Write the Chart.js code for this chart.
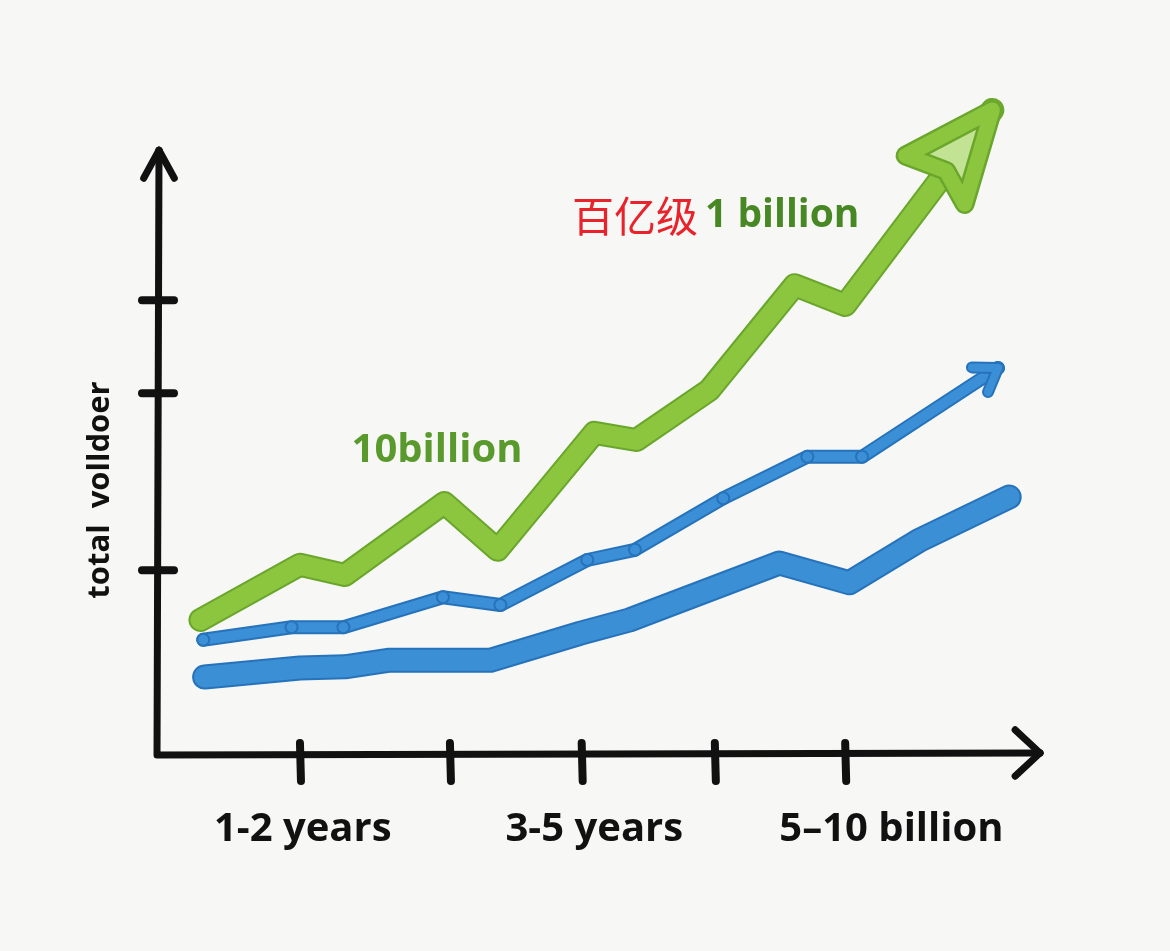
<!DOCTYPE html>
<html lang="zh">

<head>
    <meta charset="UTF-8">
    <title>total volldoer</title>
    <style>
        body { margin: 0; background: #f7f7f6; }
    </style>
    <script src="https://cdn.jsdelivr.net/npm/chart.js"></script>
</head>

<body>
    <canvas id="grafico" width="1170" height="951"></canvas>
<script>
    // valores (x em "anos", y em unidades do eixo)
    var verdeX = [0.31, 1.02, 1.34, 2.05, 2.43, 3.12, 3.42, 3.94, 4.55, 4.91, 5.96];
    var verdeY = [2.25, 3.17, 3.0, 4.2, 3.42, 5.37, 5.25, 6.08, 7.83, 7.5, 10.75];

    var azulMeioX = [0.33, 0.96, 1.33, 2.04, 2.45, 3.07, 3.41, 4.04, 4.64, 5.03, 6.0];
    var azulMeioY = [1.92, 2.13, 2.13, 2.63, 2.5, 3.25, 3.42, 4.28, 4.97, 4.97, 6.45];

    var azulBaixoX = [0.34, 1.02, 1.34, 1.66, 2.38, 3.02, 3.37, 4.44, 4.94, 5.44, 6.08];
    var azulBaixoY = [1.3, 1.45, 1.47, 1.58, 1.58, 2.03, 2.25, 3.2, 2.87, 3.58, 4.3];

    var ticksX = [1.02, 2.09, 3.03, 3.98, 4.91];
    var ticksY = [3.08, 6.03, 7.58];

    var labelsX = ['1-2 years', '3-5 years', '5\u201310 billion'];
    var labelsXpos = [1.04, 3.12, 5.24];

    function pontos(xs, ys) {
        var lista = [];
        for (var i = 0; i < xs.length; i++) {
            lista.push({ x: xs[i], y: ys[i] });
        }
        return lista;
    }

    function linha(ctx, x1, y1, x2, y2) {
        ctx.beginPath();
        ctx.moveTo(x1, y1);
        ctx.lineTo(x2, y2);
        ctx.stroke();
    }

    function seta(ctx, px, py, ang, tam, abertura) {
        linha(ctx, px, py, px + Math.cos(ang + abertura) * tam, py + Math.sin(ang + abertura) * tam);
        linha(ctx, px, py, px + Math.cos(ang - abertura) * tam, py + Math.sin(ang - abertura) * tam);
    }

    var bordas = ['#6aa62c', '#2673bb', '#2673bb'];

    var eixos = {
        id: 'eixos',
        beforeDatasetsDraw: function (chart) {
            var ctx = chart.ctx;
            var sx = chart.scales.x;
            var sy = chart.scales.y;
            var x0 = sx.getPixelForValue(0);
            var y0 = sy.getPixelForValue(0);
            var yTopo = sy.getPixelForValue(10.08);
            var xFim = sx.getPixelForValue(6.3);

            ctx.save();
            ctx.strokeStyle = '#111';
            ctx.lineWidth = 7;
            ctx.lineCap = 'round';
            ctx.lineJoin = 'round';
            ctx.beginPath();
            ctx.moveTo(x0 + 2, yTopo);
            ctx.lineTo(x0, y0);
            ctx.lineTo(xFim, y0 - 2);
            ctx.stroke();
            seta(ctx, x0 + 2, yTopo, Math.PI / 2, 32, 0.5);
            seta(ctx, xFim, y0 - 2, Math.PI, 34, 0.75);

            ctx.lineWidth = 8;
            ticksX.forEach(function (v) {
                var px = sx.getPixelForValue(v);
                linha(ctx, px, y0 - 12, px + 1, y0 + 26);
            });
            ticksY.forEach(function (v) {
                var py = sy.getPixelForValue(v);
                linha(ctx, x0 - 15, py, x0 + 17, py);
            });
            ctx.restore();
        },
        beforeDatasetDraw: function (chart, args) {
            // contorno mais escuro por baixo de cada linha
            var ctx = chart.ctx;
            var meta = args.meta;
            var ds = chart.data.datasets[args.index];
            ctx.save();
            ctx.strokeStyle = bordas[args.index];
            ctx.lineWidth = ds.borderWidth + 4;
            ctx.lineCap = 'round';
            ctx.lineJoin = 'round';
            ctx.beginPath();
            meta.data.forEach(function (pt, i) {
                if (i == 0) ctx.moveTo(pt.x, pt.y);
                else ctx.lineTo(pt.x, pt.y);
            });
            ctx.stroke();
            ctx.restore();
        },
        afterDatasetsDraw: function (chart) {
            var ctx = chart.ctx;
            var sx = chart.scales.x;
            ctx.save();
            ctx.lineCap = 'round';
            ctx.lineJoin = 'round';

            // ponta da seta verde
            var p = chart.getDatasetMeta(0).data;
            var a = p[p.length - 1], b = p[p.length - 2];
            var ang = Math.atan2(b.y - a.y, b.x - a.x);
            var tam = 98;
            ctx.beginPath();
            ctx.moveTo(a.x, a.y);
            ctx.lineTo(a.x + Math.cos(ang + 0.44) * tam, a.y + Math.sin(ang + 0.44) * tam);
            ctx.lineTo(a.x + Math.cos(ang) * tam * 0.78, a.y + Math.sin(ang) * tam * 0.78);
            ctx.lineTo(a.x + Math.cos(ang - 0.36) * tam, a.y + Math.sin(ang - 0.36) * tam);
            ctx.closePath();
            ctx.fillStyle = '#c3e394';
            ctx.fill();
            ctx.strokeStyle = '#6aa62c';
            ctx.lineWidth = 20;
            ctx.stroke();
            ctx.strokeStyle = '#8cc63f';
            ctx.lineWidth = 15;
            ctx.stroke();

            // ponta da seta azul
            var q = chart.getDatasetMeta(1).data;
            var c = q[q.length - 1], d = q[q.length - 2];
            var angA = Math.atan2(d.y - c.y, d.x - c.x);
            ctx.strokeStyle = '#2673bb';
            ctx.lineWidth = 12;
            seta(ctx, c.x, c.y, angA, 26, 0.6);
            ctx.strokeStyle = '#3a8fd6';
            ctx.lineWidth = 8;
            seta(ctx, c.x, c.y, angA, 26, 0.6);

            // textos
            ctx.textBaseline = 'middle';
            ctx.textAlign = 'center';
            ctx.fillStyle = '#111';
            ctx.font = 'bold 40px "Open Sans", "Noto Sans", sans-serif';
            for (var i = 0; i < labelsX.length; i++) {
                ctx.fillText(labelsX[i], sx.getPixelForValue(labelsXpos[i]), 830);
            }

            ctx.fillStyle = '#5a9a2c';
            ctx.font = 'bold 40px "Open Sans", "Noto Sans", sans-serif';
            ctx.fillText('10billion', 437, 451);

            ctx.textAlign = 'left';
            ctx.fillStyle = '#e8232b';
            ctx.font = '42px "Noto Sans CJK SC", sans-serif';
            ctx.fillText('百亿级', 572, 216);
            ctx.fillStyle = '#478724';
            ctx.font = 'bold 39px "Open Sans", "Noto Sans", sans-serif';
            ctx.fillText('1 billion', 705, 216);

            ctx.translate(100, 490);
            ctx.rotate(-Math.PI / 2);
            ctx.textAlign = 'center';
            ctx.fillStyle = '#111';
            ctx.font = 'bold 31px "Open Sans", "Noto Sans", sans-serif';
            ctx.fillText('total  volldoer', 0, 0);
            ctx.restore();
        }
    };

    var grafico = new Chart(document.getElementById('grafico'), {
        type: 'line',
        data: {
            datasets: [{
                label: '1 billion',
                data: pontos(verdeX, verdeY),
                borderColor: '#8cc63f',
                borderWidth: 20,
                pointRadius: 0,
                borderCapStyle: 'round',
                borderJoinStyle: 'round',
                clip: false
            }, {
                label: 'meio',
                data: pontos(azulMeioX, azulMeioY),
                borderColor: '#3a8fd6',
                borderWidth: 10,
                pointRadius: 6,
                pointBackgroundColor: '#3a8fd6',
                pointBorderColor: '#2673bb',
                pointBorderWidth: 2,
                borderCapStyle: 'round',
                borderJoinStyle: 'round',
                clip: false
            }, {
                label: 'baixo',
                data: pontos(azulBaixoX, azulBaixoY),
                borderColor: '#3b8fd4',
                borderWidth: 21,
                pointRadius: 0,
                borderCapStyle: 'round',
                borderJoinStyle: 'round',
                clip: false
            }]
        },
        options: {
            responsive: false,
            animation: false,
            events: [],
            layout: { padding: { left: 157, right: 130, top: 95, bottom: 196 } },
            plugins: { legend: { display: false }, tooltip: { enabled: false } },
            scales: {
                x: { type: 'linear', min: 0, max: 6.3, display: false },
                y: { min: 0, max: 11, display: false }
            }
        },
        plugins: [eixos]
    });
</script>
</body>

</html>
